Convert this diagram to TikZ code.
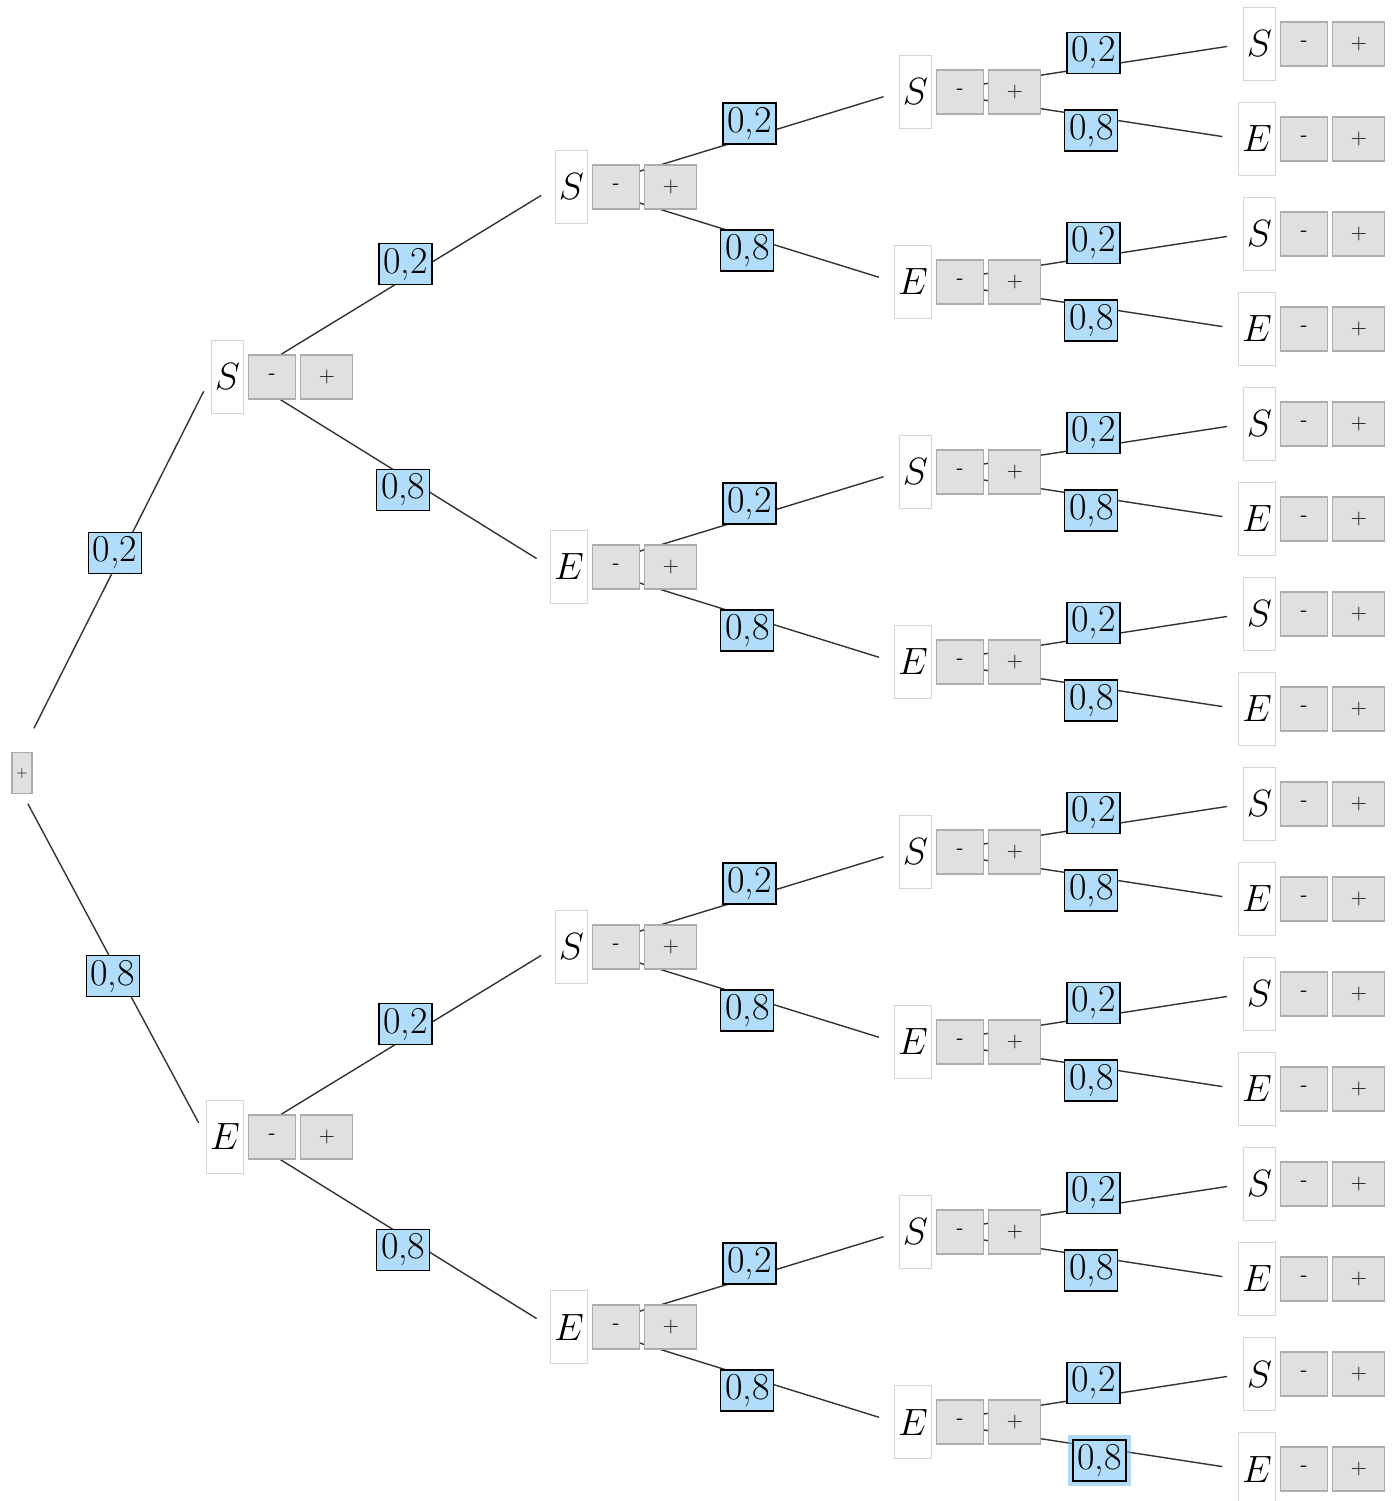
\RequirePackage{fix-cm}
\documentclass[tikz,border=0pt]{standalone}
\usepackage{tikz}
\usetikzlibrary{positioning, backgrounds}

\definecolor{probblue}{RGB}{178,221,250}
\definecolor{btngray}{RGB}{224,224,224}
\definecolor{btnedge}{RGB}{172,172,172}
\definecolor{leafedge}{RGB}{214,214,214}
\definecolor{glowblue}{RGB}{110,185,240}

% outcome box with its two buttons: name, letter, x, y
\newcommand{\outcome}[4]{%
  \node[leaf, anchor=east] (#1) at (#3, #4) {$#2$};
  \node[minusbtn, right=4pt of #1] (#1m) {-};
  \node[plusbtn, right=4pt of #1m] (#1p) {+};
}

\begin{document}
\begin{tikzpicture}[
    x=1pt, y=-1pt,
    leaf/.style={rectangle, draw=leafedge, fill=white, line width=1pt, minimum height=73pt, inner xsep=3.5pt, inner ysep=0pt, text=black, font=\fontsize{38}{40}\selectfont},
    btn/.style={rectangle, draw=btnedge, fill=btngray, line width=1.2pt, minimum height=44pt, inner sep=0pt, text=black, font=\sffamily\fontsize{22}{24}\selectfont},
    minusbtn/.style={btn, minimum width=47pt},
    plusbtn/.style={btn, minimum width=52pt},
    rootbtn/.style={btn, minimum width=20pt, minimum height=41pt, font=\sffamily\fontsize{16}{18}\selectfont},
    branch/.style={line width=1.4pt, draw=black!80, shorten <=6pt, shorten >=16pt},
    prob/.style={rectangle, draw=black, fill=probblue, line width=1.4pt, inner sep=0pt, minimum width=53pt, minimum height=41pt, pos=0.52, font=\fontsize{38}{40}\selectfont},
    probup/.style={prob, yshift=14pt},
    probdown/.style={prob, yshift=-14pt},
    focus/.style={preaction={draw=glowblue, line width=10pt, opacity=0.55}, line width=2.2pt, xshift=8pt}
]
\useasboundingbox (0, 0) rectangle (1392, 1501);

% ============ ROOT ============
\node[rootbtn] (root) at (22, 773) {+};

% ============ FIRST DRAW ============
\outcome{s}{S}{244}{377}
\outcome{e}{E}{244}{1137}

% ============ SECOND DRAW ============
\outcome{ss}{S}{588}{187}
\outcome{se}{E}{588}{567}
\outcome{es}{S}{588}{947}
\outcome{ee}{E}{588}{1327}

% ============ THIRD DRAW ============
\outcome{sss}{S}{932}{92}
\outcome{sse}{E}{932}{282}
\outcome{ses}{S}{932}{472}
\outcome{see}{E}{932}{662}
\outcome{ess}{S}{932}{852}
\outcome{ese}{E}{932}{1042}
\outcome{ees}{S}{932}{1232}
\outcome{eee}{E}{932}{1422}

% ============ FOURTH DRAW ============
\outcome{ssss}{S}{1276}{44}
\outcome{ssse}{E}{1276}{139}
\outcome{sses}{S}{1276}{234}
\outcome{ssee}{E}{1276}{329}
\outcome{sess}{S}{1276}{424}
\outcome{sese}{E}{1276}{519}
\outcome{sees}{S}{1276}{614}
\outcome{seee}{E}{1276}{709}
\outcome{esss}{S}{1276}{804}
\outcome{esse}{E}{1276}{899}
\outcome{eses}{S}{1276}{994}
\outcome{esee}{E}{1276}{1089}
\outcome{eess}{S}{1276}{1184}
\outcome{eese}{E}{1276}{1279}
\outcome{eees}{S}{1276}{1374}
\outcome{eeee}{E}{1276}{1469}

% ============ BRANCHES (behind the buttons) ============
\begin{scope}[on background layer]
\draw[branch, shorten <=50pt] (root.west) -- node[probup] {0,2} (s.west);
\draw[branch, shorten <=35pt] (root.west) -- node[probdown] {0,8} (e.west);

\draw[branch] (s.east) -- node[probup] {0,2} (ss.west);
\draw[branch] (s.east) -- node[probdown] {0,8} (se.west);
\draw[branch] (e.east) -- node[probup] {0,2} (es.west);
\draw[branch] (e.east) -- node[probdown] {0,8} (ee.west);

\draw[branch] (ss.east) -- node[probup] {0,2} (sss.west);
\draw[branch] (ss.east) -- node[probdown] {0,8} (sse.west);
\draw[branch] (se.east) -- node[probup] {0,2} (ses.west);
\draw[branch] (se.east) -- node[probdown] {0,8} (see.west);
\draw[branch] (es.east) -- node[probup] {0,2} (ess.west);
\draw[branch] (es.east) -- node[probdown] {0,8} (ese.west);
\draw[branch] (ee.east) -- node[probup] {0,2} (ees.west);
\draw[branch] (ee.east) -- node[probdown] {0,8} (eee.west);

\draw[branch] (sss.east) -- node[probup] {0,2} (ssss.west);
\draw[branch] (sss.east) -- node[probdown] {0,8} (ssse.west);
\draw[branch] (sse.east) -- node[probup] {0,2} (sses.west);
\draw[branch] (sse.east) -- node[probdown] {0,8} (ssee.west);
\draw[branch] (ses.east) -- node[probup] {0,2} (sess.west);
\draw[branch] (ses.east) -- node[probdown] {0,8} (sese.west);
\draw[branch] (see.east) -- node[probup] {0,2} (sees.west);
\draw[branch] (see.east) -- node[probdown] {0,8} (seee.west);
\draw[branch] (ess.east) -- node[probup] {0,2} (esss.west);
\draw[branch] (ess.east) -- node[probdown] {0,8} (esse.west);
\draw[branch] (ese.east) -- node[probup] {0,2} (eses.west);
\draw[branch] (ese.east) -- node[probdown] {0,8} (esee.west);
\draw[branch] (ees.east) -- node[probup] {0,2} (eess.west);
\draw[branch] (ees.east) -- node[probdown] {0,8} (eese.west);
\draw[branch] (eee.east) -- node[probup] {0,2} (eees.west);
\draw[branch] (eee.east) -- node[probdown, focus] {0,8} (eeee.west);
\end{scope}

\end{tikzpicture}
\end{document}
